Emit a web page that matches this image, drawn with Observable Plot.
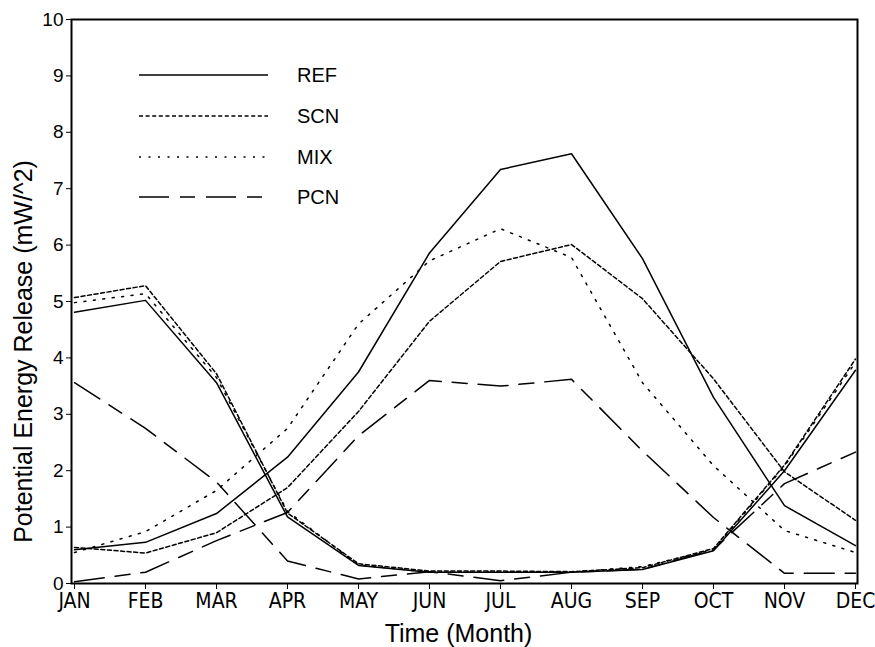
<!DOCTYPE html>
<html>
<head>
<meta charset="utf-8">
<script src="https://cdn.jsdelivr.net/npm/d3@7"></script>
<script src="https://cdn.jsdelivr.net/npm/@observablehq/plot@0.6"></script>
<style>
  html, body { margin: 0; padding: 0; background: #fff; }
  #chart { position: relative; width: 875px; height: 647px; }
</style>
</head>
<body>
<div id="chart"></div>
<script>
const months = ["JAN","FEB","MAR","APR","MAY","JUN","JUL","AUG","SEP","OCT","NOV","DEC"];
const yTicks = [0,1,2,3,4,5,6,7,8,9,10];

// Each experiment has two curves (winter-peaking "A" and summer-peaking "B")
const refA = [4.81, 5.02, 3.56, 1.18, 0.32, 0.20, 0.20, 0.20, 0.25, 0.58, 2.00, 3.78];
const refB = [0.60, 0.73, 1.24, 2.24, 3.75, 5.86, 7.34, 7.62, 5.76, 3.30, 1.38, 0.67];
const scnA = [5.07, 5.28, 3.72, 1.25, 0.35, 0.22, 0.22, 0.21, 0.28, 0.62, 2.10, 3.98];
const scnB = [0.64, 0.54, 0.90, 1.70, 3.05, 4.65, 5.71, 6.01, 5.05, 3.63, 1.98, 1.12];
const mixA = [4.98, 5.14, 3.65, 1.28, 0.33, 0.20, 0.20, 0.20, 0.30, 0.60, 2.08, 3.92];
const mixB = [0.55, 0.92, 1.65, 2.75, 4.60, 5.72, 6.29, 5.78, 3.56, 2.09, 0.94, 0.55];
const pcnA = [3.56, 2.75, 1.80, 0.40, 0.08, 0.21, 0.05, 0.20, 0.25, 0.60, 1.77, 2.33];
const pcnB = [0.03, 0.20, 0.76, 1.26, 2.62, 3.60, 3.50, 3.62, 2.35, 1.17, 0.18, 0.18];

const seriesNames = ["REF","SCN","MIX","PCN"];
const dashes = {REF: null, SCN: "4,2.6", MIX: "2,7.5", PCN: "30,11,15,11"};

const curves = [
  {name: "REF", part: "A", values: refA}, {name: "REF", part: "B", values: refB},
  {name: "SCN", part: "A", values: scnA}, {name: "SCN", part: "B", values: scnB},
  {name: "MIX", part: "A", values: mixA}, {name: "MIX", part: "B", values: mixB},
  {name: "PCN", part: "A", values: pcnA}, {name: "PCN", part: "B", values: pcnB}
];
const rows = curves.flatMap(c => c.values.map((v, i) => ({name: c.name, key: c.name + c.part, month: months[i], value: v})));

const lineMarks = seriesNames.map(n => Plot.line(rows.filter(r => r.name === n), {
  x: "month", y: "value", z: "key", stroke: "#000", strokeWidth: 1.5,
  strokeDasharray: dashes[n] || undefined
}));

const plot = Plot.plot({
  width: 875,
  height: 647,
  marginLeft: 71,
  marginRight: 18,
  marginTop: 19,
  marginBottom: 64,
  style: {background: "#fff", color: "#000", fontFamily: "'Liberation Sans', Arial, sans-serif"},
  x: {type: "point", domain: months, padding: 0},
  y: {domain: [0, 10]},
  marks: [
    ...lineMarks,
    Plot.frame({stroke: "#000", strokeWidth: 2}),
    Plot.axisX(months, {tickSize: 6, tickPadding: 4, fontSize: 21, fontFamily: "'Liberation Sans Narrow', 'DejaVu Sans Condensed', sans-serif", label: null}),
    Plot.axisY(yTicks, {tickSize: 5, tickPadding: 3, fontSize: 19, label: null, tickFormat: d => String(d)}),
    Plot.text(["Potential Energy Release (mW/^2)"], {frameAnchor: "left", dx: -48, dy: 50, rotate: -90, textAnchor: "middle", lineAnchor: "middle", fontSize: 25, text: d => d}),
    Plot.text(["Time (Month)"], {frameAnchor: "bottom", dy: 50, dx: -6, textAnchor: "middle", lineAnchor: "middle", fontSize: 25, text: d => d})
  ]
});

document.getElementById("chart").appendChild(plot);

// Legend inside the plotting area
const svg = d3.select(plot);
const lg = svg.append("g");
const legendY = [75, 116, 157, 197];
seriesNames.forEach((n, i) => {
  lg.append("line").attr("x1", 139).attr("x2", 268).attr("y1", legendY[i]).attr("y2", legendY[i])
    .attr("stroke", "#000").attr("stroke-width", 1.5).attr("stroke-dasharray", dashes[n]);
  lg.append("text").attr("x", 297).attr("y", legendY[i]).attr("dy", "0.35em")
    .attr("text-anchor", "start")
    .attr("font-size", 20).attr("font-family", "'Liberation Sans', Arial, sans-serif").attr("fill", "#000").text(n);
});
</script>
</body>
</html>
